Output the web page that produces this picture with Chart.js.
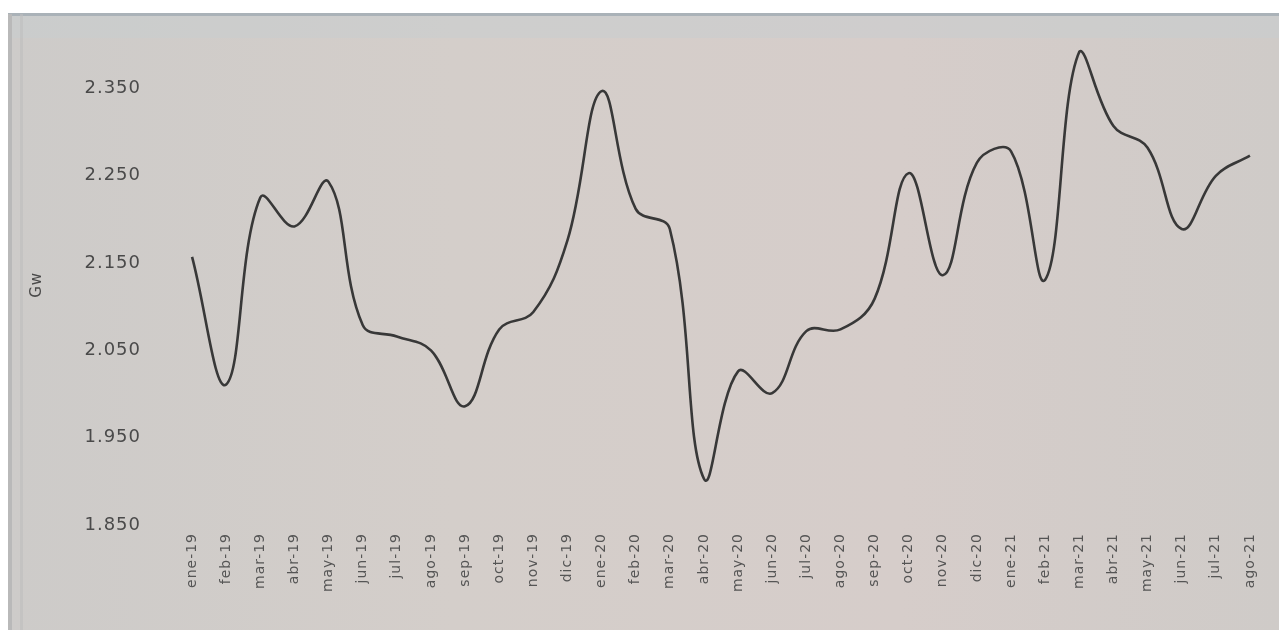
<!DOCTYPE html>
<html>
<head>
<meta charset="utf-8">
<script src="https://cdn.jsdelivr.net/npm/chart.js@4.4.1/dist/chart.umd.min.js"></script>
<style>
  html, body { margin: 0; padding: 0; background: #ffffff; }
  #wrap { width: 1279px; height: 630px; position: relative; }
</style>
</head>
<body>
<div id="wrap"><canvas id="chart_gw"></canvas></div>
<script>
// month labels, ene-19 .. ago-21
var months = [
  'ene.-19', 'feb.-19', 'mar.-19', 'abr.-19', 'may.-19', 'jun.-19', 'jul.-19', 'ago.-19',
  'sep.-19', 'oct.-19', 'nov.-19', 'dic.-19', 'ene.-20', 'feb.-20', 'mar.-20', 'abr.-20',
  'may.-20', 'jun.-20', 'jul.-20', 'ago.-20', 'sep.-20', 'oct.-20', 'nov.-20', 'dic.-20',
  'ene.-21', 'feb.-21', 'mar.-21', 'abr.-21', 'may.-21', 'jun.-21', 'jul.-21', 'ago.-21'
];

// demand in Gw
var gwValues = [
  2.157, 2.011, 2.225, 2.192, 2.243, 2.079, 2.066, 2.050,
  1.986, 2.074, 2.094, 2.176, 2.347, 2.212, 2.189, 1.903,
  2.026, 2.001, 2.072, 2.074, 2.109, 2.253, 2.136, 2.265,
  2.278, 2.131, 2.392, 2.307, 2.282, 2.189, 2.250, 2.273
];

var yTicks = [1.85, 1.95, 2.05, 2.15, 2.25, 2.35];

var textColor = '#4a4a4a';

var chart_gw = new Chart(document.getElementById('chart_gw'), {
    type: 'line',
    data: {
        labels: months,
        datasets: [{
            label: 'Gw',
            data: gwValues,
            borderColor: '#383838',
            borderWidth: 2.6,
            pointRadius: 0,
            tension: 0.4,
            fill: false
        }]
    },
    options: {
        animation: false,
        responsive: true,
        maintainAspectRatio: false,
        layout: {
            padding: { left: 28, right: 12, top: 41, bottom: 0 }
        },
        plugins: {
            legend: { display: false },
            title: { display: false },
            tooltip: { enabled: false }
        },
        scales: {
            x: {
                type: 'category',
                offset: true,
                grid: { display: false, drawTicks: false },
                border: { display: false },
                ticks: {
                    color: '#555555',
                    font: { family: 'DejaVu Sans', size: 14 },
                    minRotation: 90,
                    maxRotation: 90,
                    autoSkip: false,
                    padding: 8,
                    callback: function(value, index) {
                        return months[index].replace('.', '');
                    }
                },
                afterFit: function(scale) {
                    scale.height = 105;
                }
            },
            y: {
                type: 'linear',
                min: 1.85,
                max: 2.40,
                grid: { display: false, drawTicks: false },
                border: { display: false },
                title: {
                    display: true,
                    text: 'Gw',
                    color: textColor,
                    font: { family: 'DejaVu Sans', size: 15 },
                    padding: 0
                },
                ticks: {
                    color: textColor,
                    font: { family: 'DejaVu Sans', size: 18 },
                    padding: 34,
                    callback: function(value) {
                        return value.toFixed(3);
                    }
                },
                afterBuildTicks: function(scale) {
                    scale.ticks = yTicks.map(function(v) { return { value: v }; });
                },
                afterFit: function(scale) {
                    scale.width = 147;
                }
            }
        }
    },
    plugins: [{
        id: 'panelBackground',
        beforeDraw: (chart, args, options) => {
            const ctx = chart.ctx;
            const w = chart.width, h = chart.height;
            ctx.save();
            ctx.fillStyle = '#ffffff';
            ctx.fillRect(0, 0, w, h);
            const g = ctx.createLinearGradient(8, 0, w, 0);
            g.addColorStop(0, '#cdcbc9');
            g.addColorStop(0.35, '#d4ceca');
            g.addColorStop(0.7, '#d6cdca');
            g.addColorStop(1, '#cfcbc8');
            ctx.fillStyle = g;
            ctx.fillRect(8, 14, w - 8, h - 14);
            // top edge of the panel
            ctx.fillStyle = '#aab2b8';
            ctx.fillRect(8, 13, w - 8, 3);
            // lighter strip below the top edge
            ctx.fillStyle = 'rgba(200,205,208,0.5)';
            ctx.fillRect(8, 16, w - 8, 22);
            // left edge
            ctx.fillStyle = '#b9b9b9';
            ctx.fillRect(8, 14, 4, h - 14);
            ctx.fillStyle = 'rgba(190,190,190,0.6)';
            ctx.fillRect(20, 14, 3, h - 14);
            ctx.restore();
            // the photographed labels look slightly spaced
            ctx.letterSpacing = '1px';
        }
    }]
});
</script>
</body>
</html>
